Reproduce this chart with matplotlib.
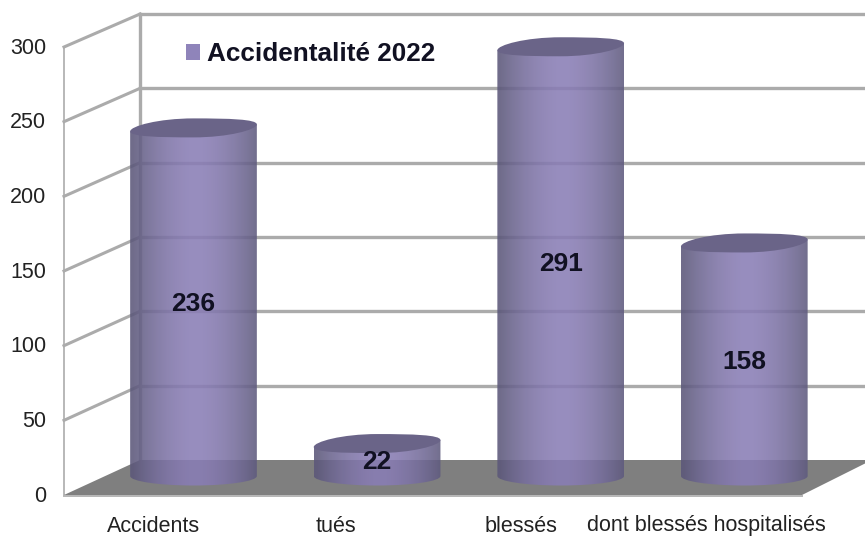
import numpy as np
import matplotlib
matplotlib.use("Agg")
import matplotlib.pyplot as plt
from matplotlib.path import Path
from matplotlib.patches import PathPatch, Polygon, Patch

plt.rcParams['font.family'] = ['Liberation Sans', 'DejaVu Sans']

categories = ["Accidents", "tués", "blessés", "dont blessés hospitalisés"]
values = [236, 22, 291, 158]
value_ticks = [0, 50, 100, 150, 200, 250, 300]
series_name = "Accidentalité 2022"

W, H = 865, 537
fig = plt.figure(figsize=(W / 100, H / 100), dpi=100, facecolor='white')

# --- pseudo-3D box (pixel coordinates)
bg = fig.add_axes([0, 0, 1, 1])
bg.set_xlim(0, W); bg.set_ylim(H, 0); bg.axis('off')
FX, BX = 64, 140
front = lambda v: 495 - v * 448 / 300
back = lambda v: 460 - v * 446 / 300
GRID = '#ababab'
bg.add_patch(Polygon([(FX, 495), (802, 495), (872, 460), (BX, 460)], closed=True,
                     fc='#7f7f7f', ec='none', zorder=2))
bg.plot([FX, 802], [495.5, 495.5], color='#b5b5b5', lw=1.4, zorder=3)
bg.plot([FX, FX], [front(0), front(300)], color=GRID, lw=1.2, zorder=1)
bg.plot([BX, BX], [back(0), back(300)], color=GRID, lw=2.4, zorder=1)
for v in value_ticks:
    if v > 0:
        bg.plot([BX, W], [back(v), back(v)], color=GRID, lw=2.4, zorder=1)
        bg.plot([FX, BX], [front(v), back(v)], color=GRID, lw=2.2, zorder=1)
    bg.text(46, front(v) + 1, str(v), ha='right', va='center',
            fontsize=15.5, color='#222222')

# --- data axes: value 0 at y=476 px, 1 unit = 1.475 px; categories 183.6 px apart
x0 = 193.5 - 0.5 * 183.6
x1 = x0 + 4 * 183.6
y_scale = 1.475
y_floor = -15
y_base, y_top = 476 - y_floor * y_scale, 476 - 300 * y_scale
ax = fig.add_axes([x0 / W, 1 - y_base / H, (x1 - x0) / W, (y_base - y_top) / H])
ax.patch.set_alpha(0); ax.axis('off')

BAR_W = 0.69
RY = 9.5 / y_scale
TILT = 3.5 / y_scale
k = 0.5523

# horizontal gradient for the cylinder body
t = np.linspace(0, 1, 256)
shade = np.clip(1 - (np.abs(t - 0.52) / 0.5) ** 1.7, 0, 1)
edge = np.array([0x5c, 0x58, 0x7a]); mid = np.array([0x8a, 0x7e, 0xb6])
rgb = (edge[None, :] + (mid - edge)[None, :] * shade[:, None]) / 255
rgba = np.dstack([rgb[None, :, :], np.full((1, 256), 0.88)])


def cyl_paths(cx, v, w, ry, tilt):
    l, r = cx - w / 2, cx + w / 2
    top_l, top_r = v - tilt, v + tilt
    verts = [(l, top_l), (r, top_r), (r, 0),
             (r, -k * ry), (cx + k * w / 2, -ry), (cx, -ry),
             (cx - k * w / 2, -ry), (l, -k * ry), (l, 0), (l, top_l)]
    codes = [Path.MOVETO, Path.LINETO, Path.LINETO] + [Path.CURVE4] * 6 + [Path.CLOSEPOLY]
    body = Path(verts, codes)
    lid = [(l, top_l),
           (l, top_l + k * ry), (cx - k * w / 2, v + ry), (cx, v + ry),
           (cx + k * w / 2, v + ry), (r, top_r + k * ry), (r, top_r),
           (r, top_r - k * ry), (cx + k * w / 2, v - ry), (cx, v - ry),
           (cx - k * w / 2, v - ry), (l, top_l - k * ry), (l, top_l), (l, top_l)]
    lid_codes = [Path.MOVETO] + [Path.CURVE4] * 12 + [Path.CLOSEPOLY]
    return body, Path(lid, lid_codes)


for i, v in enumerate(values):
    body, lid = cyl_paths(i, v, BAR_W, RY, TILT)
    clip = PathPatch(body, transform=ax.transData, fc='none', ec='none')
    ax.add_patch(clip)
    im = ax.imshow(rgba, extent=(i - BAR_W / 2, i + BAR_W / 2, -RY - 1, v + RY),
                   aspect='auto', zorder=2, interpolation='bilinear')
    im.set_clip_path(clip)
    ax.add_patch(PathPatch(lid, fc='#6a6488', ec='none', zorder=3))
    ax.text(i, v / 2 - 1.5, str(v), ha='center', va='center',
            fontsize=19, fontweight='bold', color='#111122', zorder=4)

ax.set_xlim(-0.5, 3.5); ax.set_ylim(y_floor, 300)

# category labels, placed beneath each cylinder
cat_px = [154, 336, 521, 706]
for lab, px in zip(categories, cat_px):
    bg.text(px, 526, lab, ha='center', va='center', fontsize=15.5, color='#222222')

leg = ax.legend(handles=[Patch(fc='#8f84ba', ec='none', label=series_name)],
                loc='upper left',
                bbox_to_anchor=((186 - x0) / (x1 - x0), (y_base - 42) / (y_base - y_top)),
                frameon=False, prop={'size': 18.8, 'weight': 'bold'},
                handlelength=0.55, handleheight=0.6, handletextpad=0.27,
                borderpad=0, borderaxespad=0)
for txt in leg.get_texts():
    txt.set_color('#111122')

fig.savefig('out.png', dpi=100, facecolor='white')
